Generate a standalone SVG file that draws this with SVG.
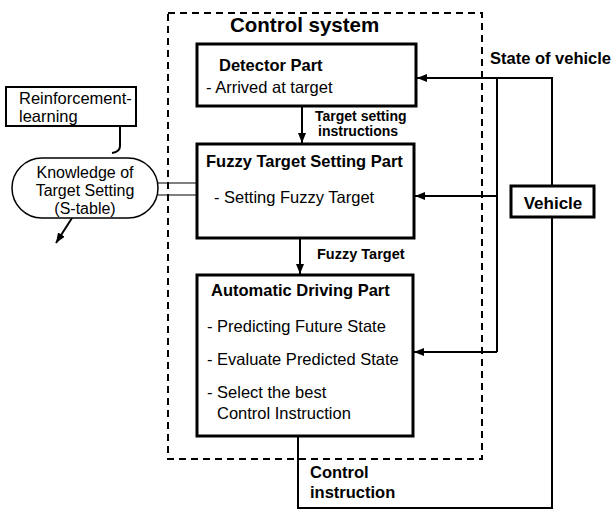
<svg xmlns="http://www.w3.org/2000/svg" width="612" height="509" viewBox="0 0 612 509">
<defs>
<marker id="ah" markerWidth="10" markerHeight="8" refX="10" refY="4" orient="auto" markerUnits="userSpaceOnUse">
<path d="M0,0 L10,4 L0,8 z" fill="#000"/>
</marker>
<style>
text{font-family:"Liberation Sans",Arial,sans-serif;fill:#000}
.b{font-weight:bold}
.box{fill:#fff;stroke:#000;stroke-width:3}
.ln{fill:none;stroke:#000;stroke-width:2}
</style>
</defs>
<rect width="612" height="509" fill="#fff"/>
<g id="control-system">
<rect x="168" y="13" width="314" height="446" fill="none" stroke="#000" stroke-width="2" stroke-dasharray="7,5"/>
<text x="230" y="32" class="b" font-size="20.5">Control system</text>
</g>
<g id="connectors">
<line class="ln" x1="302" y1="106" x2="302" y2="143" marker-end="url(#ah)"/>
<line class="ln" x1="300" y1="238" x2="300" y2="274" marker-end="url(#ah)"/>
<polyline class="ln" points="552,186 552,78 417,78" marker-end="url(#ah)"/>
<line class="ln" x1="497" y1="78" x2="497" y2="352"/>
<line class="ln" x1="497" y1="196" x2="415" y2="196" marker-end="url(#ah)"/>
<polyline class="ln" points="497,352 414,352" marker-end="url(#ah)"/>
<polyline class="ln" points="298,436 298,508 552,508 552,217"/>
<path class="ln" d="M120,126 V146 Q120,152 112,153"/>
<line x1="158" y1="183" x2="197" y2="183" stroke="#000" stroke-width="1"/>
<line x1="158" y1="195" x2="197" y2="195" stroke="#000" stroke-width="1"/>
<line class="ln" x1="72" y1="218" x2="56" y2="243" marker-end="url(#ah)"/>
<text x="315" y="121" class="b" font-size="14">Target setting</text>
<text x="318" y="136" class="b" font-size="14">instructions</text>
<text x="317" y="259" class="b" font-size="14.5">Fuzzy Target</text>
<text x="310" y="478" class="b" font-size="16.5">Control</text>
<text x="310" y="498" class="b" font-size="16.5">instruction</text>
<text x="490" y="64" class="b" font-size="16.5">State of vehicle</text>
</g>
<g id="detector">
<rect class="box" x="197" y="44" width="219" height="62"/>
<text x="219" y="71" class="b" font-size="16.5">Detector Part</text>
<text x="206" y="93" font-size="16.5">- Arrived at target</text>
</g>
<g id="fuzzy-target">
<rect class="box" x="197" y="144" width="217" height="94"/>
<text x="206" y="167" class="b" font-size="16.5">Fuzzy Target Setting Part</text>
<text x="214" y="203" font-size="16.5">- Setting Fuzzy Target</text>
</g>
<g id="automatic-driving">
<rect class="box" x="197" y="275" width="216" height="161"/>
<text x="211" y="296" class="b" font-size="16.5">Automatic Driving Part</text>
<text x="207" y="332" font-size="16.5">- Predicting Future State</text>
<text x="207" y="365" font-size="16.5">- Evaluate Predicted State</text>
<text x="207" y="398" font-size="16.5">- Select the best</text>
<text x="217" y="419" font-size="16.5">Control Instruction</text>
</g>
<g id="vehicle">
<rect class="box" x="511" y="186" width="83" height="31"/>
<text x="553" y="209" class="b" font-size="17" text-anchor="middle">Vehicle</text>
</g>
<g id="reinforcement">
<rect x="6" y="87" width="130" height="39" fill="#fff" stroke="#000" stroke-width="2"/>
<text x="19" y="104" font-size="16.5">Reinforcement-</text>
<text x="19" y="122" font-size="16.5">learning</text>
</g>
<g id="knowledge">
<rect x="12" y="158" width="146" height="60" rx="30" ry="30" fill="#fff" stroke="#000" stroke-width="1.5"/>
<text x="85" y="178" font-size="16" text-anchor="middle">Knowledge of</text>
<text x="85" y="196" font-size="16" text-anchor="middle">Target Setting</text>
<text x="85" y="214" font-size="16" text-anchor="middle">(S-table)</text>
</g>
</svg>
